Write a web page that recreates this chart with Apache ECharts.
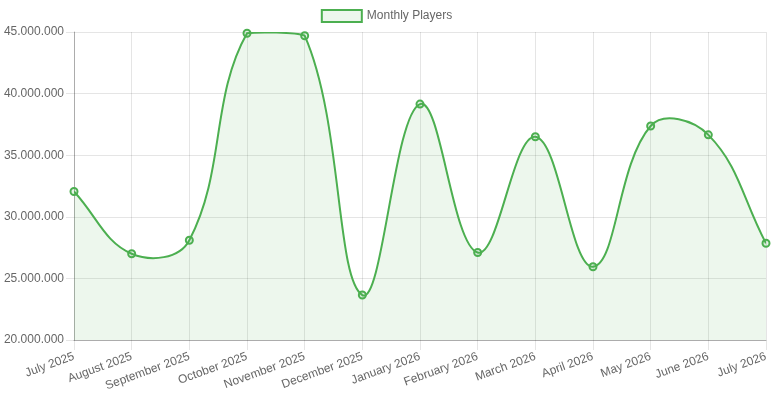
<!DOCTYPE html>
<html><head><meta charset="utf-8">
<script src="https://cdn.jsdelivr.net/npm/echarts@6/dist/echarts.min.js"></script>
<style>html,body{margin:0;padding:0;background:#fff}#c{width:773px;height:400px}</style>
</head><body><div id="c"></div>
<script>
const categories = ["July 2025","August 2025","September 2025","October 2025","November 2025","December 2025","January 2026","February 2026","March 2026","April 2026","May 2026","June 2026","July 2026"];
const monthlyPlayers = [32050000,27000000,28100000,44900000,44700000,23650000,39150000,27100000,36500000,25950000,37370000,36650000,27850000];
const seriesName = "Monthly Players";
const yMin = 20000000, yMax = 45000000, yStep = 5000000;

function fmt(v){ return String(Math.round(v)).replace(/\B(?=(\d{3})+(?!\d))/g, "."); }
const font = "'Liberation Sans', Arial, Helvetica, sans-serif";
const green = "#4CAF50";
const tension = 0.4;

function splinePath(api){
  const pts = monthlyPlayers.map((v,i)=>api.coord([i, v]));
  const top = api.coord([0, yMax])[1], bottom = api.coord([0, yMin])[1];
  const left = api.coord([0, yMin])[0], right = api.coord([monthlyPlayers.length-1, yMin])[0];
  const cap = p => [Math.max(left, Math.min(right, p[0])), Math.max(top, Math.min(bottom, p[1]))];
  const cps = pts.map((cur,i)=>{
    const prev = pts[i-1] || cur, next = pts[i+1] || cur;
    const d01 = Math.hypot(cur[0]-prev[0], cur[1]-prev[1]);
    const d12 = Math.hypot(next[0]-cur[0], next[1]-cur[1]);
    let s01 = d01/(d01+d12), s12 = d12/(d01+d12);
    if (!isFinite(s01)) s01 = 0; if (!isFinite(s12)) s12 = 0;
    const fa = tension*s01, fb = tension*s12;
    return {
      prev: cap([cur[0]-fa*(next[0]-prev[0]), cur[1]-fa*(next[1]-prev[1])]),
      next: cap([cur[0]+fb*(next[0]-prev[0]), cur[1]+fb*(next[1]-prev[1])])
    };
  });
  let d = 'M' + pts[0][0] + ' ' + pts[0][1];
  for (let i=1;i<pts.length;i++){
    const a = cps[i-1].next, b = cps[i].prev;
    d += ' C' + a[0] + ' ' + a[1] + ' ' + b[0] + ' ' + b[1] + ' ' + pts[i][0] + ' ' + pts[i][1];
  }
  const last = pts[pts.length-1];
  const area = d + ' L' + last[0] + ' ' + bottom + ' L' + pts[0][0] + ' ' + bottom + ' Z';
  return {line:d, area:area};
}

const chart = echarts.init(document.getElementById('c'), null, {renderer:'canvas'});
chart.setOption({
  animation:false,
  textStyle:{fontFamily:font},
  legend:{
    top:4, left:'center', itemWidth:40, itemHeight:12, itemGap:5,
    textStyle:{color:'#666', fontSize:12, fontFamily:font},
    data:[{name:seriesName, icon:'rect', itemStyle:{color:'rgba(76,175,80,0.1)', borderColor:green, borderWidth:2}}]
  },
  grid:{left:74, right:7, top:32, bottom:60, containLabel:false},
  xAxis:{
    type:'category', data:categories, boundaryGap:false,
    axisLine:{show:true, lineStyle:{color:'rgba(0,0,0,0.25)', width:1}},
    axisTick:{show:true, length:10, lineStyle:{color:'rgba(0,0,0,0.1)'}},
    axisLabel:{rotate:20, color:'#666', fontSize:12, fontFamily:font, margin:16, interval:0},
    splitLine:{show:true, lineStyle:{color:'rgba(0,0,0,0.1)'}}
  },
  yAxis:{
    type:'value', min:yMin, max:yMax, interval:yStep,
    axisLine:{show:true, lineStyle:{color:'rgba(0,0,0,0.25)', width:1}},
    axisTick:{show:true, length:8, lineStyle:{color:'rgba(0,0,0,0.1)'}},
    axisLabel:{color:'#666', fontSize:12, fontFamily:font, margin:10, formatter:fmt},
    splitLine:{show:true, lineStyle:{color:'rgba(0,0,0,0.1)'}}
  },
  series:[
    {
      name:'curve', type:'custom', clip:true, z:2,
      data: monthlyPlayers.map((v,i)=>[i,v]),
      encode:{x:0, y:1},
      renderItem:function(params, api){
        if (params.dataIndex !== 0) return null;
        const p = splinePath(api);
        return {type:'group', children:[
          {type:'path', shape:{pathData:p.area}, style:{fill:'rgba(76,175,80,0.1)', stroke:null}},
          {type:'path', shape:{pathData:p.line}, style:{fill:null, stroke:green, lineWidth:2}}
        ]};
      }
    },
    {
      name:seriesName, type:'line', data:monthlyPlayers, z:3,
      symbol:'circle', symbolSize:7, showSymbol:true,
      lineStyle:{opacity:0, width:0},
      itemStyle:{color:'rgba(76,175,80,0.15)', borderColor:green, borderWidth:2}
    }
  ]
});
</script></body></html>
